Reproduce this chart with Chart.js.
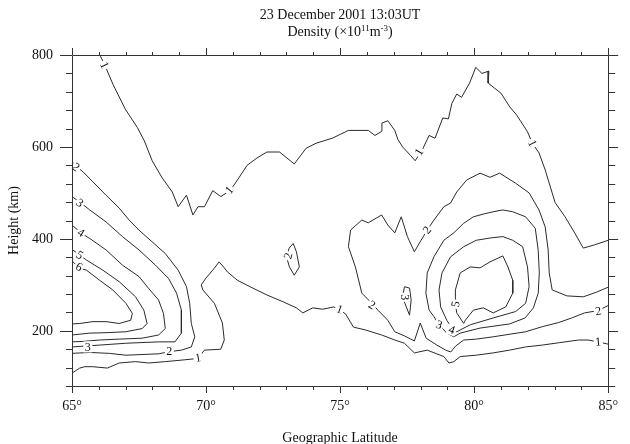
<!DOCTYPE html>
<html>
<head>
<meta charset="utf-8">
<script src="https://cdn.jsdelivr.net/npm/chart.js@4.4.1/dist/chart.umd.min.js"></script>
<style>
html, body { margin: 0; padding: 0; background: #fff; }
</style>
</head>
<body>
<canvas id="c" width="630" height="444"></canvas>
<script>
// tick labels
const latTicks = [65, 70, 75, 80, 85]
const heightTicks = [200, 400, 600, 800]

// contour lines, [latitude, height km]
const c1Upper = [[66.04,800],[66.20,781],[66.53,736],[66.98,683],[67.44,642],[67.70,613],[67.99,570],[68.36,533],[68.74,502],[68.96,470],[69.27,495],[69.51,452],[69.70,470],[69.94,470],[70.25,505],[70.55,492],[70.91,506],[71.17,528],[71.53,560],[71.90,576],[72.27,589],[72.74,589],[73.29,563],[73.73,597],[74.10,608],[74.71,619],[75.31,636],[76.05,636],[76.30,625],[76.55,634],[76.56,652],[76.78,657],[77.04,636],[77.15,617],[77.33,600],[77.62,582],[77.80,570],[78.06,593],[78.32,625],[78.54,619],[78.83,663],[79.04,661],[79.17,695],[79.35,715],[79.53,708],[79.83,739],[80.06,773],[80.29,760],[80.55,765],[80.52,739],[81.00,717],[81.33,687],[81.59,669],[81.99,633],[82.17,608],[82.42,587],[82.65,550],[82.91,500],[83.02,479],[83.39,448],[83.75,413],[84.07,380],[84.49,387],[85.00,397]]
const c1Lower = [[65.00,108],[65.29,119],[65.48,122],[65.77,122],[66.32,119],[66.76,130],[67.37,133],[67.86,130],[68.48,133],[69.21,137],[69.70,140],[69.94,158],[70.55,160],[70.68,180],[70.61,217],[70.31,260],[69.88,289],[69.82,300],[70.00,315],[70.25,332],[70.49,350],[70.68,337],[70.80,328],[71.17,310],[71.64,296],[72.27,278],[72.88,263],[73.37,250],[73.61,239],[73.98,250],[74.35,247],[74.76,252],[74.94,247],[75.20,237],[75.50,208],[75.94,202],[76.55,191],[77.04,180],[77.40,173],[77.77,152],[78.25,158],[78.87,144],[79.06,130],[79.24,133],[79.48,144],[80.08,147],[80.71,152],[81.32,158],[81.92,165],[82.54,169],[83.15,174],[83.89,180],[84.25,180],[84.62,176],[85.00,171]]
const c2Left = [[65.00,568],[65.17,557],[65.41,546],[65.78,524],[66.27,495],[66.76,467],[67.13,441],[67.50,419],[67.98,394],[68.48,368],[68.96,332],[69.27,296],[69.39,260],[69.45,216],[69.58,187],[69.45,165],[69.08,158],[68.66,155],[68.23,150],[67.01,147],[66.39,151],[65.66,153],[65.00,151]]
const c3Left = [[65.00,492],[65.36,477],[65.66,463],[66.27,437],[66.88,405],[67.50,376],[68.11,343],[68.60,314],[68.90,282],[69.08,245],[69.08,195],[68.84,176],[68.23,176],[67.01,173],[66.03,169],[65.00,165]]
const c4Left = [[65.00,430],[65.36,412],[65.66,401],[66.27,376],[66.88,343],[67.50,318],[67.86,292],[68.23,267],[68.41,238],[68.48,205],[68.23,191],[67.62,184],[66.76,182],[66.03,180],[65.41,177],[65.00,176]]
const c5Left = [[65.00,377],[65.29,365],[65.54,354],[66.15,332],[66.76,307],[67.37,274],[67.68,245],[67.80,216],[67.62,205],[67.01,198],[66.27,196],[65.66,195],[65.00,191]]
const c6Left = [[65.00,352],[65.29,336],[65.54,332],[66.03,310],[66.52,289],[67.01,260],[67.25,238],[67.19,223],[66.76,216],[66.27,220],[65.78,220],[65.29,216],[65.00,215]]
const c2Right = [[85.00,255],[84.62,244],[84.12,239],[83.64,228],[83.15,218],[82.54,209],[81.92,198],[80.71,187],[80.08,182],[79.61,180],[79.31,167],[79.13,154],[78.94,158],[78.61,169],[78.21,184],[77.99,217],[77.77,178],[77.40,189],[77.04,198],[76.78,223],[76.41,245],[76.18,260],[75.81,282],[75.57,339],[75.31,383],[75.39,419],[75.81,441],[76.05,435],[76.55,452],[76.78,430],[77.04,413],[77.28,448],[77.51,405],[77.77,372],[78.02,397],[78.25,419],[78.50,441],[78.87,470],[79.12,478],[79.35,502],[79.72,528],[80.22,543],[80.59,534],[80.95,543],[81.55,521],[82.05,500],[82.42,463],[82.65,426],[82.76,376],[82.80,326],[82.91,289],[83.46,276],[84.07,274],[84.56,284],[85.00,295]]
const ring3 = [[81.07,463],[81.44,459],[81.92,448],[82.28,423],[82.39,375],[82.43,326],[82.39,282],[82.21,250],[81.90,228],[81.32,215],[80.22,206],[79.48,195],[79.24,187],[78.98,195],[78.69,213],[78.50,231],[78.32,245],[78.20,282],[78.25,326],[78.50,361],[78.87,397],[79.24,413],[79.61,434],[79.97,448],[80.34,454],[80.71,459],[81.07,463]]
const ring4 = [[81.07,405],[81.44,397],[81.81,383],[81.99,339],[82.05,296],[81.92,260],[81.55,242],[80.71,228],[79.85,213],[79.35,198],[79.17,206],[78.98,223],[78.75,252],[78.69,289],[78.80,326],[79.12,361],[79.61,383],[80.08,397],[80.60,402],[81.07,405]]
const ring5 = [[79.61,216],[79.35,239],[79.30,260],[79.30,289],[79.48,326],[79.85,339],[80.22,337],[80.59,350],[81.07,363],[81.26,339],[81.44,310],[81.44,282],[81.18,252],[80.71,239],[80.34,250],[79.97,245],[79.67,223],[79.61,216]]
const loop2 = [[73.25,390],[73.37,372],[73.48,339],[73.29,321],[73.11,339],[73.00,361],[73.10,380],[73.25,390]]
const loop3 = [[77.40,296],[77.59,293],[77.65,267],[77.62,250],[77.59,234],[77.47,252],[77.33,273],[77.40,296]]

// contour labels: [text, latitude, height, angle]
const contourLabels = [
    ['1', 66.21, 778, 65], ['1', 70.87, 506, -50], ['1', 77.95, 589, -59], ['1', 82.17, 608, 63],
    ['1', 74.98, 247, 20], ['1', 69.70, 141, -10], ['1', 84.63, 176, -5],
    ['2', 65.15, 556, 40], ['3', 65.29, 478, 35], ['4', 65.33, 413, 30], ['5', 65.29, 365, 30], ['6', 65.26, 339, 25],
    ['3', 65.59, 165, 0], ['2', 68.63, 156, 0], ['2', 73.07, 363, -75], ['2', 76.19, 256, 30],
    ['2', 78.25, 419, -50], ['3', 77.40, 273, 90], ['3', 78.69, 213, 20], ['4', 79.17, 202, 20],
    ['5', 79.31, 258, -80], ['2', 84.63, 243, -10]
]

const serif = "'Liberation Serif', 'Times New Roman', serif"
const contours = [c1Upper, c1Lower, c2Left, c3Left, c4Left, c5Left, c6Left, c2Right, ring3, ring4, ring5, loop2, loop3]

const labelPlugin = {
    id: 'contourLabels',
    afterDatasetsDraw(chart){
        const {ctx, scales: {x, y}} = chart
        ctx.save()
        ctx.font = `12px ${serif}`
        ctx.textAlign = 'center'
        ctx.textBaseline = 'middle'
        for (let [t, lat, h, ang] of contourLabels){
            const px = x.getPixelForValue(lat)
            const py = y.getPixelForValue(h)
            ctx.save()
            ctx.translate(px, py)
            ctx.rotate(ang * Math.PI / 180)
            const w = ctx.measureText(t).width
            ctx.fillStyle = '#fff'
            ctx.fillRect(-w/2 - 1.5, -5.5, w + 3, 11)
            ctx.fillStyle = '#111'
            ctx.fillText(t, 0, 0.5)
            ctx.restore()
        }
        ctx.restore()
    }
}

const framePlugin = {
    id: 'frame',
    afterDraw(chart){
        const {ctx, chartArea: a, scales: {x, y}} = chart
        ctx.save()
        ctx.strokeStyle = '#333'
        ctx.lineWidth = 1
        ctx.beginPath()
        ctx.rect(Math.round(a.left) + .5, Math.round(a.top) + .5, Math.round(a.right - a.left), Math.round(a.bottom - a.top))
        for (let v = 65; v <= 85; v++){
            const px = Math.round(x.getPixelForValue(v)) + .5
            const major = v % 5 == 0
            ctx.moveTo(px, a.bottom); ctx.lineTo(px, a.bottom + (major ? 7 : 4))
            ctx.moveTo(px, a.top); ctx.lineTo(px, a.top - (major ? 7 : 3))
        }
        for (let v = 80; v <= 800; v += 40){
            const py = Math.round(y.getPixelForValue(v)) + .5
            const major = v % 200 == 0
            ctx.moveTo(a.left, py); ctx.lineTo(a.left - (major ? 12 : 6), py)
            ctx.moveTo(a.right, py); ctx.lineTo(a.right + (major ? 10 : 7), py)
        }
        ctx.stroke()

        // title with superscripts
        ctx.fillStyle = '#111'
        ctx.textBaseline = 'alphabetic'
        ctx.textAlign = 'center'
        const cx = (a.left + a.right) / 2
        ctx.font = `14px ${serif}`
        ctx.fillText('23 December 2001 13:03UT', cx, 19)
        const parts = [['Density (\u00d710', 0], ['11', 1], ['m', 0], ['-3', 1], [')', 0]]
        let total = 0
        for (let [s, sup] of parts){
            ctx.font = sup ? `9px ${serif}` : `14px ${serif}`
            total += ctx.measureText(s).width
        }
        let xPos = cx - total / 2
        ctx.textAlign = 'left'
        for (let [s, sup] of parts){
            ctx.font = sup ? `9px ${serif}` : `14px ${serif}`
            ctx.fillText(s, xPos, sup ? 31 : 36)
            xPos += ctx.measureText(s).width
        }
        ctx.restore()
    }
}

new Chart(document.getElementById('c'), {
    type: 'line',
    data: {
        datasets: contours.map(pts => ({
            data: pts.map(([lat, h]) => ({x: lat, y: h})),
            borderColor: '#2a2a2a',
            borderWidth: 1,
            pointRadius: 0,
            tension: 0,
            fill: false
        }))
    },
    options: {
        responsive: false,
        animation: false,
        devicePixelRatio: 1,
        layout: { padding: {top: 55, right: 13, left: 0, bottom: 0} },
        scales: {
            x: {
                type: 'linear',
                min: 65,
                max: 85,
                grid: { display: false, drawTicks: false },
                border: { display: false },
                afterBuildTicks: s => { s.ticks = latTicks.map(v => ({value: v})) },
                afterFit: s => { s.height = 58 },
                ticks: {
                    color: '#111',
                    font: { family: serif, size: 14 },
                    padding: 12,
                    maxRotation: 0,
                    callback: v => `${v}\u00b0`
                },
                title: {
                    display: true,
                    text: 'Geographic Latitude',
                    color: '#111',
                    font: { family: serif, size: 14 },
                    padding: {top: 0, bottom: -3}
                }
            },
            y: {
                type: 'linear',
                min: 80,
                max: 800,
                grid: { display: false, drawTicks: false },
                border: { display: false },
                afterBuildTicks: s => { s.ticks = heightTicks.map(v => ({value: v})) },
                afterFit: s => { s.width = 72 },
                ticks: {
                    color: '#111',
                    font: { family: serif, size: 14 },
                    padding: 19
                },
                title: {
                    display: true,
                    text: 'Height (km)',
                    color: '#111',
                    font: { family: serif, size: 14 },
                    padding: {top: 6, bottom: 0}
                }
            }
        },
        plugins: {
            legend: { display: false },
            tooltip: { enabled: false }
        }
    },
    plugins: [labelPlugin, framePlugin]
})
</script>
</body>
</html>
